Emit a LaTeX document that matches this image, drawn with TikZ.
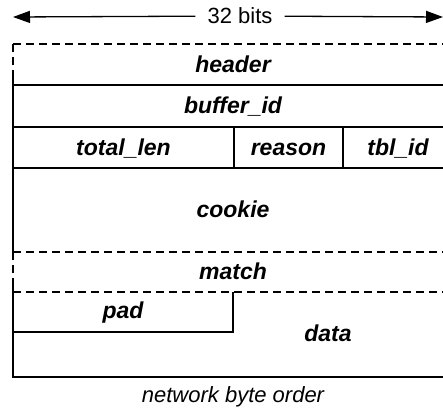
\documentclass[tikz,border=0pt]{standalone}
\usepackage{fontspec}
\setmainfont{Liberation Sans}
\usetikzlibrary{arrows.meta}
\tikzset{
  field/.style={font=\fontsize{23}{27}\selectfont\bfseries\itshape, text height=16pt, text depth=0pt, inner sep=0pt},
  frame/.style={black, line width=1.3pt},
  dashframe/.style={frame, dash pattern=on 8pt off 5pt},
}
\begin{document}
\begin{tikzpicture}[x=1pt,y=-1pt]
		\useasboundingbox (0,0) rectangle (443,411);
		\clip (0,0) rectangle (443,411);
		% width marker
		\coordinate (lend) at (13,17);
		\coordinate (rend) at (443,17);
		\node[font=\fontsize{22}{26}\selectfont, inner xsep=12pt] (bits) at (240,16) {32 bits};
		\draw[frame, -{Triangle[length=17pt,width=12pt]}] (bits) -- (lend);
		\draw[frame, -{Triangle[length=17pt,width=12pt]}] (bits) -- (rend);
		
		% rows
		\draw[dashframe] (13,44)--(453,44);
		\draw[dashframe] (13,44)--(13,78);
		\draw[frame] (13,78)--(13,252);
		\draw[frame] (13,85)--(453,85);
		\draw[frame] (13,127)--(453,127);
		\draw[frame] (13,168)--(453,168);
		\draw[frame] (234,127)--(234,168);
		\draw[frame] (343,127)--(343,168);
		\draw[dashframe] (13,252)--(453,252);
		\draw[dashframe] (13,252)--(13,285);
		\draw[frame] (13,285)--(13,377)--(453,377);
		\draw[dashframe] (13,292)--(453,292);
		\draw[frame] (13,332)--(233,332)--(233,292);
		
		\node[field] (hdr) at (233,64.5) {header};
		\node[field] (bufid) at (233,106) {buffer\_id};
		\node[field] (totlen) at (123.5,148) {total\_len};
		\node[field] (reason) at (288.5,148) {reason};
		\node[field] (tblid) at (398,148) {tbl\_id};
		\node[field] (cookie) at (233,209) {cookie};
		\node[field] (match) at (233,271) {match};
		\node[field] (pad) at (123,310) {pad};
		\node[field] (data) at (328,333) {data};
		\node[font=\fontsize{22}{26}\selectfont\itshape] (order) at (233,397) {network byte order};
	\end{tikzpicture}
\end{document}
